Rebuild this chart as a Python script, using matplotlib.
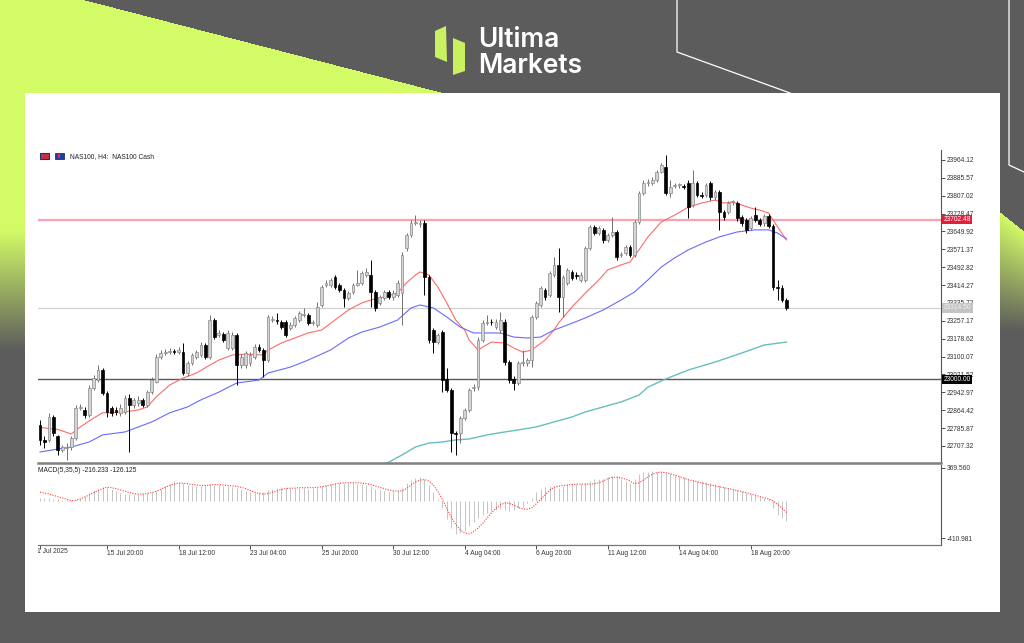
import numpy as np
import matplotlib
matplotlib.use('Agg')
import matplotlib.pyplot as plt
from matplotlib.patches import Polygon, Rectangle
from matplotlib.transforms import Bbox, TransformedBbox, IdentityTransform, blended_transform_factory

# ---------------- data ----------------
opens = [22800, 22734, 22734, 22835, 22751, 22690, 22699, 22703, 22742, 22874,
         22866, 22844, 22962, 22997, 23041, 22940, 22874, 22866, 22853, 22857,
         22918, 22888, 22896, 22910, 22888, 22944, 22990, 23098, 23116, 23120,
         23125, 23120, 23120, 23028, 23072, 23098, 23107, 23151, 23098, 23261,
         23195, 23199, 23138, 23138, 23195, 23063, 23063, 23072, 23098, 23142,
         23129, 23085, 23261, 23261, 23252, 23252, 23226, 23239, 23261, 23283,
         23283, 23248, 23239, 23327, 23415, 23415, 23450, 23415, 23393, 23358,
         23384, 23415, 23424, 23459, 23459, 23384, 23336, 23358, 23384, 23362,
         23371, 23380, 23577, 23635, 23687, 23683, 23687, 23450, 23217, 23164,
         23208, 23002, 22953, 22764, 22764, 22830, 22866, 22962, 22966, 23173,
         23248, 23252, 23230, 23217, 23252, 23076, 23002, 22984, 23072, 23072,
         23085, 23274, 23327, 23393, 23371, 23459, 23503, 23362, 23424, 23472,
         23459, 23437, 23437, 23577, 23670, 23643, 23657, 23613, 23635, 23648,
         23547, 23555, 23582, 23547, 23692, 23819, 23863, 23863, 23876, 23911,
         23933, 23819, 23850, 23854, 23850, 23863, 23766, 23863, 23810, 23810,
         23863, 23801, 23823, 23735, 23735, 23779, 23775, 23713, 23700, 23665,
         23722, 23700, 23687, 23718, 23674, 23406, 23402, 23349]
highs = [22822, 22751, 22853, 22844, 22756, 22712, 22720, 22751, 22888, 22892,
         22879, 22975, 23019, 23063, 23050, 22950, 22885, 22880, 22890, 22930,
         22935, 22920, 22925, 22920, 22955, 23010, 23110, 23129, 23135, 23138,
         23135, 23142, 23160, 23080, 23115, 23130, 23165, 23160, 23283, 23270,
         23215, 23210, 23215, 23210, 23205, 23110, 23125, 23120, 23155, 23155,
         23140, 23285, 23280, 23292, 23262, 23262, 23250, 23280, 23300, 23314,
         23292, 23262, 23340, 23415, 23437, 23446, 23460, 23425, 23400, 23390,
         23425, 23481, 23475, 23489, 23525, 23393, 23372, 23395, 23395, 23392,
         23435, 23560, 23645, 23700, 23722, 23700, 23700, 23460, 23225, 23205,
         23215, 23050, 22960, 22775, 22840, 22875, 22962, 22980, 23185, 23260,
         23283, 23265, 23265, 23296, 23265, 23085, 23015, 23080, 23129, 23095,
         23285, 23345, 23410, 23400, 23478, 23538, 23577, 23460, 23490, 23480,
         23470, 23470, 23585, 23680, 23680, 23675, 23665, 23645, 23713, 23655,
         23560, 23592, 23590, 23700, 23830, 23875, 23880, 23888, 23920, 23950,
         23986, 23876, 23865, 23865, 23860, 23876, 23920, 23872, 23822, 23865,
         23872, 23833, 23832, 23745, 23785, 23790, 23785, 23722, 23710, 23718,
         23757, 23710, 23728, 23728, 23683, 23437, 23415, 23358]
lows = [22712, 22699, 22725, 22751, 22668, 22681, 22646, 22690, 22734, 22866,
        22830, 22835, 22953, 22990, 22930, 22835, 22840, 22845, 22840, 22850,
        22681, 22875, 22885, 22880, 22880, 22935, 22985, 23090, 23105, 23112,
        23110, 23112, 23020, 23015, 23065, 23090, 23100, 23090, 23090, 23178,
        23185, 23165, 23130, 23130, 22975, 23050, 23050, 23060, 23090, 23120,
        23010, 23075, 23250, 23245, 23220, 23185, 23215, 23230, 23250, 23275,
        23240, 23238, 23230, 23318, 23406, 23406, 23398, 23385, 23318, 23350,
        23375, 23410, 23415, 23450, 23318, 23300, 23325, 23350, 23352, 23350,
        23362, 23239, 23565, 23625, 23678, 23670, 23371, 23160, 23116, 23155,
        22944, 22945, 22681, 22668, 22720, 22820, 22855, 22950, 22955, 23165,
        23240, 23240, 23220, 23205, 23065, 22985, 22953, 22975, 23060, 23060,
        23054, 23265, 23318, 23350, 23362, 23450, 23296, 23274, 23415, 23435,
        23440, 23428, 23428, 23570, 23635, 23635, 23600, 23605, 23625, 23525,
        23538, 23545, 23538, 23538, 23685, 23810, 23852, 23855, 23868, 23905,
        23810, 23801, 23840, 23843, 23835, 23709, 23757, 23800, 23798, 23800,
        23790, 23790, 23657, 23700, 23725, 23768, 23698, 23675, 23645, 23655,
        23690, 23672, 23675, 23665, 23395, 23350, 23340, 23305]
closes = [22734, 22725, 22835, 22764, 22690, 22703, 22703, 22742, 22874, 22879,
          22844, 22962, 23006, 23041, 22940, 22857, 22853, 22857, 22874, 22918,
          22888, 22910, 22910, 22888, 22944, 22997, 23098, 23116, 23120, 23125,
          23120, 23129, 23028, 23072, 23107, 23120, 23151, 23098, 23261, 23186,
          23204, 23173, 23204, 23195, 23063, 23098, 23116, 23107, 23142, 23129,
          23085, 23274, 23265, 23256, 23230, 23195, 23239, 23270, 23292, 23285,
          23248, 23250, 23318, 23406, 23424, 23437, 23406, 23393, 23358, 23380,
          23415, 23424, 23467, 23472, 23384, 23314, 23362, 23384, 23362, 23380,
          23424, 23547, 23635, 23687, 23690, 23687, 23450, 23173, 23164, 23195,
          22997, 22953, 22764, 22760, 22830, 22866, 22953, 22966, 23173, 23248,
          23252, 23250, 23252, 23261, 23076, 22997, 22984, 23072, 23075, 23085,
          23274, 23336, 23402, 23362, 23467, 23503, 23362, 23450, 23481, 23446,
          23455, 23459, 23577, 23670, 23643, 23665, 23613, 23635, 23648, 23538,
          23551, 23582, 23547, 23692, 23819, 23863, 23866, 23876, 23911, 23942,
          23819, 23845, 23854, 23856, 23845, 23757, 23863, 23810, 23808, 23854,
          23801, 23823, 23735, 23713, 23775, 23780, 23709, 23687, 23657, 23709,
          23700, 23683, 23718, 23674, 23406, 23402, 23349, 23314]

# moving averages (bar index, price)
ma_fast_idx = [0, 4, 7, 9, 12, 14, 19, 22, 24, 26, 29, 32, 35, 38, 40, 43, 46, 50, 51, 54,
               57, 60, 63, 66, 69, 72, 74, 77, 80, 82, 84, 85, 87, 89, 91, 93, 95, 96, 98, 99,
               101, 104, 106, 108, 110, 113, 115, 116, 119, 122, 125, 127, 130, 132, 134, 136,
               139, 142, 145, 148, 151, 153, 155, 157, 159, 161, 163, 165, 167]
ma_fast_val = [22789, 22780, 22760, 22791, 22830, 22853, 22857, 22866, 22879, 22923, 22975,
               23006, 23028, 23063, 23085, 23107, 23111, 23107, 23129, 23160, 23182, 23204,
               23217, 23261, 23305, 23336, 23349, 23362, 23380, 23424, 23459, 23472, 23459,
               23406, 23336, 23261, 23217, 23173, 23129, 23142, 23164, 23160, 23138, 23120,
               23129, 23173, 23217, 23248, 23318, 23380, 23437, 23481, 23503, 23516, 23569,
               23626, 23692, 23722, 23757, 23775, 23788, 23775, 23779, 23766, 23753, 23744,
               23731, 23670, 23613]
ma_mid_idx = [0, 4, 7, 11, 14, 19, 22, 25, 29, 33, 36, 40, 44, 49, 51, 56, 60, 65, 69, 72,
              76, 80, 83, 85, 88, 91, 94, 97, 100, 103, 106, 109, 112, 115, 118, 122, 126,
              130, 133, 136, 139, 142, 145, 149, 152, 156, 160, 163, 165, 167]
ma_mid_val = [22681, 22694, 22703, 22725, 22756, 22769, 22791, 22813, 22853, 22879, 22910,
              22944, 22984, 22997, 23028, 23054, 23085, 23129, 23182, 23208, 23230, 23261,
              23314, 23327, 23314, 23274, 23230, 23204, 23204, 23204, 23186, 23182, 23186,
              23217, 23239, 23270, 23305, 23349, 23384, 23437, 23494, 23534, 23569, 23604,
              23626, 23648, 23657, 23657, 23643, 23617]
ma_slow_idx = [74, 78, 81, 84, 87, 90, 93, 96, 100, 104, 107, 111, 115, 119, 122, 126, 130,
               134, 136, 140, 145, 151, 157, 162, 167]
ma_slow_val = [22610, 22636, 22668, 22703, 22720, 22725, 22734, 22738, 22756, 22769, 22778,
               22791, 22813, 22835, 22857, 22879, 22901, 22931, 22966, 23002, 23041, 23076,
               23116, 23151, 23164]

macd_hist = [40, 35, 30, 25, 20, 15, 10, 10, 15,
             30, 60, 90, 120, 140, 155, 150,
             130, 110, 95, 85, 80, 75, 75, 80, 90, 100, 115,
             140, 170, 195, 210, 212, 200, 180,
             170, 165, 170, 175, 190, 185, 175, 170, 165, 160, 150, 130,
             115, 100, 95, 100, 105, 120,
             140, 150, 155, 150, 145, 150, 150, 145, 140, 150, 155, 165, 180, 190,
             200, 205, 205, 200, 200, 195, 190, 180, 165, 140,
             120, 110, 105, 110, 120, 150, 200,
             240, 260, 268, 250, 180,
             100, 20, -80,
             -200, -300, -368, -360, -330, -280,
             -230, -190, -150, -130, -110, -100, -90, -95, -110, -100,
             -80, -60, -20, 40,
             100, 140, 160, 170,
             160, 150, 170, 190, 200, 195, 190, 200, 230, 250, 245,
             250, 270, 285, 280, 250, 220, 200,
             250, 300, 320, 330, 335, 330, 320, 310, 300, 290, 280, 270, 250,
             240, 230, 220, 210, 200, 190, 175, 160, 150, 140, 125, 110, 95, 80, 65, 50, 35, 20,
             -80, -150, -190, -216.233]
macd_signal = [100, 90, 80, 65, 50, 35, 20, 5, 10,
               25, 45, 70, 95, 120, 140, 155,
               150, 140, 125, 110, 95, 85, 78, 80, 85, 95, 110,
               130, 155, 175, 190, 200, 200, 195,
               185, 180, 175, 175, 180, 185, 185, 180, 175, 170, 165, 155,
               140, 120, 100, 85, 78, 85,
               100, 115, 130, 140, 145, 145, 150, 150, 150, 150, 155, 160, 170, 180,
               190, 200, 205, 205, 205, 205, 200, 195, 185, 170,
               155, 140, 125, 115, 110, 115, 140,
               180, 215, 235, 240, 225,
               180, 110, 20,
               -80, -180, -260, -320, -355, -365,
               -340, -300, -250, -190, -130, -80, -40, -20, -25, -45,
               -70, -85, -90, -75,
               -30, 20, 70, 120,
               156, 165, 175, 180, 185, 190, 190, 190, 190, 195, 205,
               225, 250, 265, 268, 260, 245, 225,
               195, 205, 235, 270, 300, 318, 323, 318, 305, 290, 275, 258, 240,
               228, 215, 203, 192, 180, 170, 160, 150, 140, 130, 118, 106, 94, 80, 66, 52, 38, 24,
               5, -35, -80, -126.125]

price_ticks = [23964.12, 23885.57, 23807.02, 23728.47, 23649.92, 23571.37, 23492.82,
               23414.27, 23335.72, 23257.17, 23178.62, 23100.07, 23021.52, 22942.97,
               22864.42, 22785.87, 22707.32]
resistance = 23702.48
support = 23000.00
last_price = 23314.50
macd_ticks = [369.560, -410.981]
date_tick_idx = [15, 31, 47, 63, 79, 95, 111, 127, 143, 159]
date_tick_labels = ["15 Jul 20:00", "18 Jul 12:00", "23 Jul 04:00", "25 Jul 20:00",
                    "30 Jul 12:00", "4 Aug 04:00", "6 Aug 20:00", "11 Aug 12:00",
                    "14 Aug 04:00", "18 Aug 20:00"]
first_date_label = "11 Jul 2025"

# ---------------- figure ----------------
W, H = 1024, 643
fig = plt.figure(figsize=(W / 100, H / 100), dpi=100)
FONT = 'Liberation Sans'
plt.rcParams['font.family'] = [FONT, 'DejaVu Sans']

bg = fig.add_axes([0, 0, 1, 1])
bg.set_xlim(0, W)
bg.set_ylim(H, 0)
bg.axis('off')

grey = np.array([0x5c, 0x5c, 0x5c]) / 255
lime = np.array([0xd2, 0xfb, 0x66]) / 255
yy, xx = np.mgrid[0:H, 0:W].astype(float)
w = np.zeros((H, W))
w[(yy < 93) & (xx < 85 + yy * (444 - 85) / 93)] = 1
left = xx < 25
wl = np.clip((350 - yy) / 120, 0, 1)
w[left] = np.maximum(w[left], wl[left])
right = xx >= 1000
y0 = 212 + (xx - 1000) * 0.8
wr = np.where(yy > y0, np.clip((330 - yy) / (330 - y0), 0, 1), 0)
w[right] = wr[right]
img = grey[None, None, :] * (1 - w[..., None]) + lime[None, None, :] * w[..., None]
bg.imshow(img, extent=(0, W, H, 0), aspect='auto', interpolation='bilinear', zorder=0)
bg.add_patch(Rectangle((25, 93), 975, 519, fc='white', ec='none', zorder=1))
bg.plot([677, 677, 790], [0, 52, 93], color='white', lw=0.9, zorder=2)
bg.plot([1009, 1009, 1024], [0, 165, 172], color='white', lw=0.9, zorder=2)

# logo
bg.add_patch(Polygon([(435, 31), (446, 26), (447, 62), (435, 57)], closed=True,
                     fc='#c8f060', ec='none', zorder=3))
bg.add_patch(Polygon([(453, 38), (465, 43), (465, 71), (453, 75)], closed=True,
                     fc='#c8f060', ec='none', zorder=3))
bg.text(478, 47, "Ultima", color='white', fontsize=19, fontweight='semibold',
        family=['Inter', 'DejaVu Sans'], ha='left', va='baseline', zorder=3)
bg.text(478, 73, "Markets", color='white', fontsize=19, fontweight='semibold',
        family=['Inter', 'DejaVu Sans'], ha='left', va='baseline', zorder=3)

# legend icons and label
bg.add_patch(Rectangle((40, 153), 9, 6, fc='#c83040', ec='#203080', lw=0.8, zorder=3))
bg.add_patch(Rectangle((55, 153), 9, 6, fc='#2040a0', ec='#203080', lw=0.6, zorder=3))
bg.add_patch(Rectangle((58, 154), 2, 4, fc='#e03040', ec='none', zorder=4))
bg.text(70, 157, "NAS100, H4:  NAS100 Cash", fontsize=4.8, color='#222222',
        ha='left', va='center', zorder=3)

# ---------------- main price pane ----------------
px = 4.47
xl = (-(40 - 38) / px, (941 - 40) / px)


def frac(x0, y0, x1, y1):
    return [x0 / W, (H - y1) / H, (x1 - x0) / W, (y1 - y0) / H]


ax = fig.add_axes(frac(38, 150, 941, 463))
ax.set_facecolor('none')
ax.set_xlim(*xl)
ax.set_ylim(22632.6, 24008.0)

n = len(closes)
idx = np.arange(n)
o = np.array(opens, float)
c = np.array(closes, float)
hi = np.array(highs, float)
lo = np.array(lows, float)
up = c >= o
for i in range(n):
    col = '#707070' if up[i] else 'black'
    ax.vlines(idx[i], lo[i], hi[i], color=col, lw=0.7, zorder=3)
bottom = np.minimum(o, c)
height = np.maximum(np.abs(c - o), 3.0)
ax.bar(idx[up], height[up], bottom=bottom[up], width=0.62, color='#d4d4d4',
       edgecolor='#8a8a8a', lw=0.5, zorder=4)
ax.bar(idx[~up], height[~up], bottom=bottom[~up], width=0.62, color='black',
       edgecolor='black', lw=0.5, zorder=4)

ax.plot(ma_fast_idx, ma_fast_val, color='#ff6a6a', lw=0.8, zorder=2)
ax.plot(ma_mid_idx, ma_mid_val, color='#6a6aff', lw=0.8, zorder=2)
ax.plot(ma_slow_idx, ma_slow_val, color='#66bfbf', lw=1.0, zorder=2)

ax.axhline(resistance, color='#f7a3b4', lw=1.6, zorder=1)
ax.axhline(last_price, color='#cfcfcf', lw=0.8, zorder=1)
ax.axhline(support, color='#5a5a5a', lw=1.0, zorder=1)

for s in ['left', 'top']:
    ax.spines[s].set_visible(False)
ax.spines['right'].set_color('#555555')
ax.spines['right'].set_linewidth(0.8)
ax.spines['bottom'].set_color('#808080')
ax.spines['bottom'].set_linewidth(1.8)
ax.set_xticks([])
ax.yaxis.tick_right()
ax.set_yticks(price_ticks)
ax.set_yticklabels([f"{v:.2f}" for v in price_ticks])
ax.tick_params(axis='y', length=3, width=0.6, colors='#333333', labelsize=4.8, pad=1)

tr = blended_transform_factory(ax.transAxes, ax.transData)
box = dict(boxstyle='square,pad=0.2', ec='none')
ax.text(1.003, resistance, f"{resistance:.2f}", transform=tr, fontsize=4.8, color='white',
        ha='left', va='center', bbox=dict(box, fc='#e3203c'), zorder=10, clip_on=False)
ax.text(1.003, last_price, f"{last_price:.2f}", transform=tr, fontsize=4.8, color='#f0f0f0',
        ha='left', va='center', bbox=dict(box, fc='#c4c4c4'), zorder=10, clip_on=False)
ax.text(1.003, support, f"{support:.2f}", transform=tr, fontsize=4.8, color='white',
        ha='left', va='center', bbox=dict(box, fc='black'), zorder=10, clip_on=False)

# ---------------- MACD pane ----------------
am = fig.add_axes(frac(38, 465, 941, 545))
am.set_facecolor('none')
am.set_xlim(*xl)
am.set_ylim(-489.0, 403.0)
am.vlines(idx, 0, macd_hist, color='#c4c4c4', lw=0.7, zorder=2)
am.plot(idx, macd_signal, color='#ff3a3a', lw=0.8, ls=(0, (1, 1.3)), zorder=3)
for s in ['left', 'top']:
    am.spines[s].set_visible(False)
am.spines['right'].set_color('#555555')
am.spines['right'].set_linewidth(0.8)
am.spines['bottom'].set_color('#777777')
am.spines['bottom'].set_linewidth(0.9)
am.yaxis.tick_right()
am.set_yticks(macd_ticks)
am.set_yticklabels([f"{v:.3f}" for v in macd_ticks])
am.tick_params(axis='y', length=3, width=0.6, colors='#333333', labelsize=4.8, pad=1)
am.set_xticks([0] + date_tick_idx)
am.set_xticklabels([''] + date_tick_labels, ha='left')
am.tick_params(axis='x', length=3, width=0.6, colors='#333333', labelsize=4.8, pad=0.6)
am.text(0.0, 0.93, f"MACD(5,35,5) {macd_hist[-1]:.3f} {macd_signal[-1]:.3f}",
        transform=am.transAxes, fontsize=4.8, color='#222222', ha='left', va='center')
t = am.text(-1.4, -0.035, first_date_label, transform=blended_transform_factory(am.transData, am.transAxes),
            fontsize=4.8, color='#333333', ha='left', va='top')
t.set_clip_box(TransformedBbox(Bbox([[37.5, 0], [1024, 643]]), IdentityTransform()))
t.set_clip_on(True)

fig.savefig('out.png', dpi=100)
